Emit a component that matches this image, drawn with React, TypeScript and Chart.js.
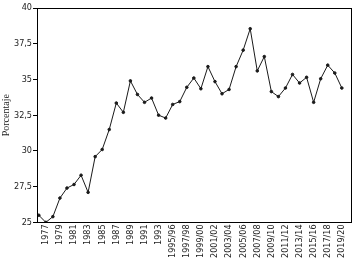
import React, { useEffect, useRef } from "react";
import { Chart, registerables } from "chart.js";

Chart.register(...registerables);

const categories: string[] = [
  "1976", "1977", "1978", "1979", "1980", "1981", "1982", "1983", "1984", "1985",
  "1986", "1987", "1988", "1989", "1990", "1991", "1992", "1993", "1994",
  "1995/96", "1996/97", "1997/98", "1998/99", "1999/00", "2000/01", "2001/02",
  "2002/03", "2003/04", "2004/05", "2005/06", "2006/07", "2007/08", "2008/09",
  "2009/10", "2010/11", "2011/12", "2012/13", "2013/14", "2014/15", "2015/16",
  "2016/17", "2017/18", "2018/19", "2019/20",
];

const values: number[] = [
  25.5, 25.0, 25.4, 26.7, 27.4, 27.65, 28.3, 27.1, 29.6, 30.1,
  31.5, 33.35, 32.7, 34.9, 33.95, 33.4, 33.7, 32.5, 32.3,
  33.25, 33.45, 34.45, 35.1, 34.35, 35.9, 34.85,
  34.0, 34.3, 35.9, 37.05, 38.55, 35.6, 36.6,
  34.15, 33.8, 34.4, 35.35, 34.75, 35.15, 33.4,
  35.05, 36.0, 35.45, 34.4,
];

const yTicks: number[] = [25, 27.5, 30, 32.5, 35, 37.5, 40];
const yTitle = "Porcentaje";

export default function App() {
  const ref = useRef<HTMLCanvasElement | null>(null);

  useEffect(() => {
    if (!ref.current) return;
    const narrow = "'Liberation Sans Narrow', 'DejaVu Sans Condensed', 'Arial Narrow', sans-serif";
    const boxPlugin = {
      id: "box",
      afterDraw(chart: any) {
        const { ctx, chartArea } = chart;
        ctx.save();
        ctx.strokeStyle = "#000";
        ctx.lineWidth = 1;
        ctx.strokeRect(
          Math.round(chartArea.left) + 0.5,
          Math.round(chartArea.top) + 0.5,
          Math.round(chartArea.right - chartArea.left),
          Math.round(chartArea.bottom - chartArea.top)
        );
        ctx.restore();
      },
    };
    const chart = new Chart(ref.current, {
      type: "line",
      data: {
        datasets: [
          {
            data: values.map((v, i) => ({ x: i, y: v })),
            borderColor: "#1a1a1a",
            backgroundColor: "#1a1a1a",
            borderWidth: 1,
            pointRadius: 1.3,
            pointHoverRadius: 1.3,
            tension: 0,
          },
        ],
      },
      options: {
        animation: false,
        responsive: true,
        maintainAspectRatio: false,
        layout: { padding: { left: 0, right: 9, top: 8, bottom: 1 } },
        plugins: { legend: { display: false }, tooltip: { enabled: false } },
        scales: {
          x: {
            type: "linear",
            min: -0.25,
            max: categories.length - 1 + 1.3,
            afterBuildTicks: (axis: any) => {
              axis.ticks = categories
                .map((_, i) => i)
                .filter((i) => i % 2 === 1)
                .map((i) => ({ value: i }));
            },
            ticks: {
              autoSkip: false,
              minRotation: 90,
              maxRotation: 90,
              padding: 2,
              color: "#222",
              font: { family: narrow, size: 9 },
              callback: (v: any) => categories[v as number] ?? "",
            },
            grid: { display: false, drawTicks: false },
            border: { display: true, color: "#000", width: 1 },
          },
          y: {
            min: 25,
            max: 40,
            afterBuildTicks: (axis: any) => {
              axis.ticks = yTicks.map((v) => ({ value: v }));
            },
            ticks: {
              padding: 1,
              color: "#222",
              font: { family: narrow, size: 9 },
              callback: (v: any) => String(v).replace(".", ","),
            },
            grid: {
              drawOnChartArea: false,
              drawTicks: true,
              tickLength: 4,
              color: "#000",
            },
            border: { display: true, color: "#000", width: 1 },
            title: {
              display: true,
              text: yTitle,
              color: "#222",
              font: { family: "'Liberation Serif', 'DejaVu Serif', serif", size: 10 },
              padding: { top: 0, bottom: 1 },
            },
          },
        },
      },
      plugins: [boxPlugin],
    } as any);
    return () => chart.destroy();
  }, []);

  return (
    <div style={{ position: "fixed", left: 0, top: 0, width: 360, height: 261, background: "#fff" }}>
      <canvas ref={ref} />
    </div>
  );
}
